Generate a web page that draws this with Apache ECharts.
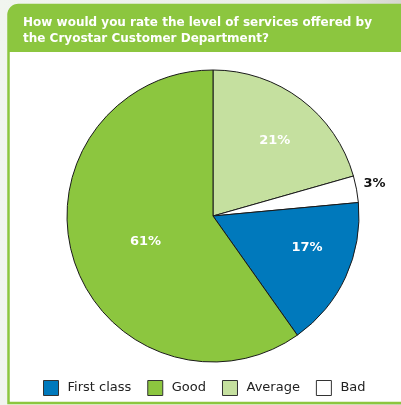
<!DOCTYPE html>
<html>
<head>
<meta charset="utf-8">
<script src="https://cdn.jsdelivr.net/npm/echarts@6/dist/echarts.min.js"></script>
<style>
  html, body { margin: 0; padding: 0; background: #eef2ea; }
  #chart { width: 401px; height: 405px; }
</style>
</head>
<body>
<div id="chart"></div>
<script>
// Survey answers, in legend order
const categories = ['First class', 'Good', 'Average', 'Bad'];
const percentages = [17, 61, 21, 3];
const sliceColors = ['#0079bc', '#8cc63f', '#c5e09f', '#ffffff'];

// Slices are laid out clockwise from 12 o'clock in this order
const drawOrder = ['Average', 'Bad', 'First class', 'Good'];

const titleText = 'How would you rate the level of services offered by\nthe Cryostar Customer Department?';

const green = '#8cc63f';

// Per-slice label tweaks (position/appearance only)
const labelStyles = {
  'Average': { offset: [16, -15] },
  'First class': { offset: [25, 0] },
  'Good': { offset: [5, 3] },
  'Bad': {
    position: 'outside',
    color: '#111',
    align: 'left',
    offset: [-4, -5]
  }
};

const pieData = drawOrder.map(function (name) {
  const i = categories.indexOf(name);
  const item = {
    name: name,
    value: percentages[i],
    itemStyle: { color: sliceColors[i] }
  };
  if (labelStyles[name]) item.label = labelStyles[name];
  if (name === 'Bad') item.labelLine = { show: false, length: 2, length2: 4 };
  return item;
});

const chart = echarts.init(document.getElementById('chart'), null, { renderer: 'canvas' });

chart.setOption({
  backgroundColor: {
    type: 'linear', x: 0, y: 0, x2: 1, y2: 0,
    colorStops: [
      { offset: 0, color: '#f1f5ef' },
      { offset: 0.8, color: '#e9ece6' },
      { offset: 1, color: '#d6d6d0' }
    ]
  },
  animation: false,
  graphic: [
    {
      type: 'rect',
      z: -10,
      shape: { x: 8.5, y: 5, width: 500, height: 398, r: [10, 0, 0, 0] },
      style: { fill: '#ffffff', stroke: green, lineWidth: 2.5 }
    },
    {
      type: 'rect',
      z: -9,
      shape: { x: 8, y: 4.5, width: 500, height: 47.5, r: [10, 0, 0, 0] },
      style: { fill: green }
    }
  ],
  title: {
    text: titleText,
    left: 23,
    top: 15,
    padding: 0,
    textStyle: {
      color: '#ffffff',
      fontFamily: 'DejaVu Sans',
      fontWeight: 'bold',
      fontSize: 12,
      lineHeight: 16
    }
  },
  legend: {
    data: categories,
    left: 43,
    top: 380,
    padding: 0,
    itemWidth: 15,
    itemHeight: 15,
    itemGap: 16,
    icon: 'rect',
    itemStyle: { borderColor: '#333', borderWidth: 1 },
    textStyle: {
      color: '#222',
      fontFamily: 'DejaVu Sans',
      fontSize: 13,
      padding: [0, 0, 0, 4]
    }
  },
  series: [
    {
      type: 'pie',
      center: [213, 216],
      radius: 146,
      startAngle: 90,
      clockwise: true,
      avoidLabelOverlap: false,
      itemStyle: { borderColor: '#1a1a1a', borderWidth: 1 },
      emphasis: { disabled: true },
      label: {
        show: true,
        position: 'inside',
        formatter: '{c}%',
        color: '#ffffff',
        fontFamily: 'DejaVu Sans',
        fontWeight: 'bold',
        fontSize: 13
      },
      data: pieData
    }
  ]
});
</script>
</body>
</html>
